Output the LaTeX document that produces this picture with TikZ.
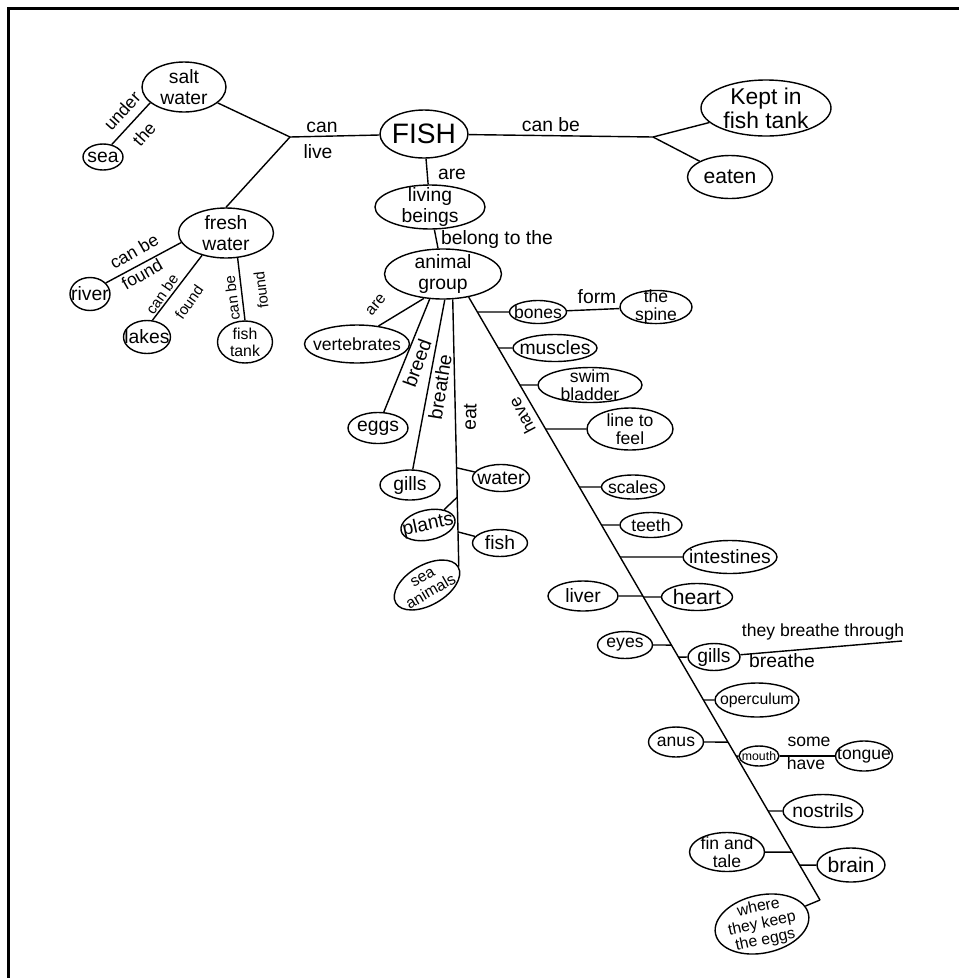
\documentclass[tikz,border=0pt]{standalone}
\usepackage{fontspec}
\setmainfont{Liberation Sans}
\usetikzlibrary{shapes.geometric}
\newcommand{\pxu}{0.02cm}
\tikzset{
  idea/.style={ellipse, draw, line width=0.8pt, inner xsep=-5pt, inner ysep=-3pt, align=center, font=\fontsize{11}{11.5}\selectfont},
  word/.style={inner sep=0pt, font=\fontsize{11}{11}\selectfont},
  smalltext/.style={font=\fontsize{9}{9.5}\selectfont},
}

\begin{document}
\begin{tikzpicture}[x=0.02cm, y=-0.02cm, line width=0.8pt]
\useasboundingbox (0,0) rectangle (959,978);
% Frame
\draw[line width=1.8pt] (8.5,978) -- (8.5,8.5) -- (959,8.5);

% Fish and where it can live
\node[idea, font=\fontsize{16}{16}\selectfont, minimum width=88*\pxu, minimum height=48*\pxu] (fish) at (424,134) {FISH};
\node[idea, minimum width=84*\pxu, minimum height=50*\pxu] (salt) at (184,87) {salt\\water};
\node[idea, minimum width=40*\pxu, minimum height=26*\pxu] (sea) at (103,157) {sea};
\node[idea, minimum width=95*\pxu, minimum height=50*\pxu] (fresh) at (226,233) {fresh\\water};
\node[idea, minimum width=40*\pxu, minimum height=33*\pxu] (river) at (90,294) {river};
\node[idea, minimum width=47*\pxu, minimum height=33*\pxu] (lakes) at (147,337) {lakes};
\node[idea, smalltext, minimum width=55*\pxu, minimum height=42*\pxu] (tank) at (245,342) {fish\\tank};
\coordinate (jlive) at (290,137);
\draw (salt) -- (jlive) -- (fish);
\draw (jlive) -- (fresh.north);
\draw (sea.55) -- (salt.205);
\draw (fresh.192) -- (river.35);
\draw (fresh.223) -- (lakes.72);
\draw (fresh.295) -- (tank.north);
\node[word, font=\fontsize{10}{10}\selectfont, rotate=48] (under) at (122,111) {under};
\node[word, font=\fontsize{10}{10}\selectfont, rotate=48] (the) at (144,134) {the};
\node[word] (can) at (322,127) {can};
\node[word] (live) at (318,152) {live};
\node[word, font=\fontsize{10}{10}\selectfont, rotate=30] (canbe1) at (134,251) {can be};
\node[word, font=\fontsize{10}{10}\selectfont, rotate=30] (found1) at (142,274) {found};
\node[word, font=\fontsize{8.5}{8.5}\selectfont, rotate=55] (canbe2) at (162,294) {can be};
\node[word, font=\fontsize{8.5}{8.5}\selectfont, rotate=55] (found2) at (189,302) {found};
\node[word, font=\fontsize{8.5}{8.5}\selectfont, rotate=97] (canbe3) at (232,298) {can be};
\node[word, font=\fontsize{8.5}{8.5}\selectfont, rotate=97] (found3) at (261,290) {found};

% What fish can be
\node[idea, font=\fontsize{13}{13.5}\selectfont, minimum width=130*\pxu, minimum height=56*\pxu] (kept) at (766,108) {Kept in\\fish tank};
\node[idea, font=\fontsize{12}{12}\selectfont, minimum width=85*\pxu, minimum height=43*\pxu] (eaten) at (730,177) {eaten};
\coordinate (jcan) at (653,137);
\draw (fish) -- (jcan) -- (kept);
\draw (jcan) -- (eaten);
\node[word] (canbe) at (551,125) {can be};

% Living beings and animal group
\node[idea, minimum width=110*\pxu, minimum height=44*\pxu] (living) at (430,207) {living\\beings};
\node[idea, minimum width=117*\pxu, minimum height=50*\pxu] (animal) at (443,274) {animal\\group};
\draw (fish) -- (living);
\draw (living) -- (animal);
\node[word] (are1) at (452,174) {are};
\node[word] (belong) at (497,239) {belong to the};

% Are, breed, breathe, eat
\node[idea, font=\fontsize{10}{10}\selectfont, minimum width=105*\pxu, minimum height=38*\pxu] (vert) at (357,344) {vertebrates};
\node[idea, minimum width=60*\pxu, minimum height=31*\pxu] (eggs) at (378,428) {eggs};
\node[idea, minimum width=60*\pxu, minimum height=30*\pxu] (gills) at (410,485) {gills};
\node[idea, minimum width=57*\pxu, minimum height=27*\pxu] (water) at (501,478) {water};
\node[idea, rotate=12, minimum width=55*\pxu, minimum height=30*\pxu] (plants) at (428,525) {plants};
\node[idea, minimum width=55*\pxu, minimum height=27*\pxu] (prey) at (500,543) {fish};
\node[idea, smalltext, rotate=30, minimum width=72*\pxu, minimum height=40*\pxu] (seaanim) at (427,585) {sea\\animals};
\draw (animal.232) -- (vert.40);
\draw (animal.242) -- (eggs.70);
\draw (animal.274) -- (gills.80);
\draw (animal.291) -- coordinate[pos=.63] (ew) coordinate[pos=.74] (ep) coordinate[pos=.87] (ef) (seaanim.east);
\draw (ew) -- (water);
\draw (ep) -- (plants);
\draw (ef) -- (prey);
\node[word, smalltext, rotate=50] (are2) at (376,305) {are};
\node[word, rotate=70] (breed) at (417,363) {breed};
\node[word, rotate=81] (breathe) at (440,387) {breathe};
\node[word, rotate=88] (eat) at (470,417) {eat};

% Have
\coordinate (hend) at (820,900);
\draw (animal.318) coordinate (hs) -- (hend);
\node[word, font=\fontsize{10}{10}\selectfont, rotate=118] (have) at (522,416) {have};
\foreach \n/\x/\y/\w/\h/\f/\t in {
    bones/538/312/57/23/10/bones, muscles/555/348/84/27/11/muscles,
    swim/590/385/104/35/10/{swim\\bladder}, feel/630/429/86/42/10/{line to\\feel},
    scales/633/487/63/24/10/scales, teeth/651/525/62/25/10/teeth,
    guts/730/557/94/33/11/intestines, liver/583/596/70/30/11/liver,
    heart/697/597/71/27/12/heart, eyes/625/645/55/27/10/eyes,
    gills2/714/657/52/27/11/gills, operc/757/700/84/34/9/operculum,
    anus/676/742/55/30/10/anus, mouth/759/756/40/20/7/mouth,
    nostrils/823/811/80/33/11/nostrils, fin/727/852/75/39/10/{fin and\\tale},
    brain/851/865/68/34/12/brain}
{
    \node[idea, font=\fontsize{\f}{\f}\selectfont, minimum width=\w*\pxu, minimum height=\h*\pxu] (\n) at (\x,\y) {\t};
    \draw (intersection of hs--hend and \n.west--\n.east) -- (\n);
}
\node[idea, smalltext, rotate=12, minimum width=95*\pxu, minimum height=58*\pxu] (keep) at (762,924) {where\\they keep\\the eggs};
\draw (hend) -- (keep);

% Extra links
\node[idea, font=\fontsize{10}{10}\selectfont, minimum width=72*\pxu, minimum height=30*\pxu] (spine) at (656,307) {the\\spine};
\draw (bones) -- (spine);
\node[word] (form) at (597,297) {form};
\coordinate (through) at (902,641);
\draw (gills2) -- (through);
\node[word, font=\fontsize{10}{10}\selectfont] (tbt) at (823,632) {they breathe through};
\node[word] (breathe2) at (782,661) {breathe};
\node[idea, font=\fontsize{10}{10}\selectfont, minimum width=57*\pxu, minimum height=30*\pxu] (tongue) at (864,756) {tongue};
\draw (mouth) -- (tongue);
\node[word, font=\fontsize{10}{10}\selectfont] (some) at (809,742) {some};
\node[word, font=\fontsize{10}{10}\selectfont] (have2) at (806,763) {have};
\end{tikzpicture}
\end{document}
